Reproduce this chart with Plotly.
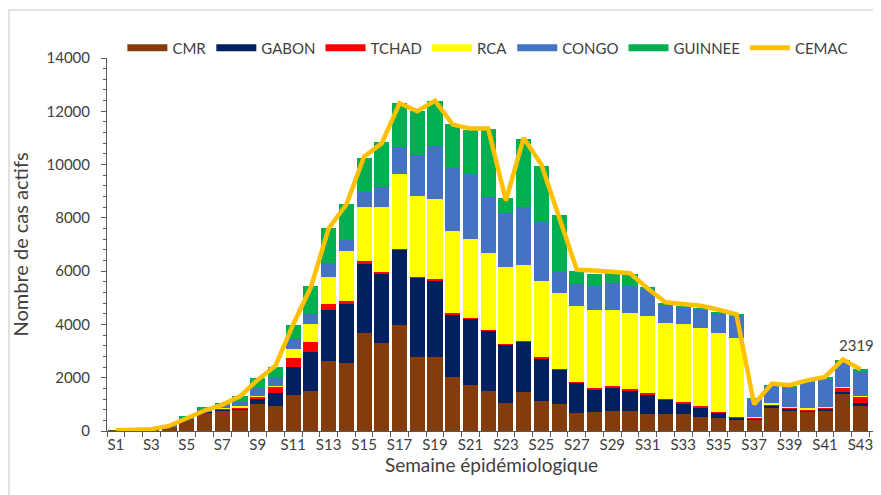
import plotly.graph_objects as go

weeks = ["S%d" % i for i in range(1, 44)]

cmr = [20, 20, 60, 150, 440, 680, 780, 780, 1010, 920,
       1340, 1510, 2640, 2540, 3665, 3300, 3990, 2765, 2765, 2015,
       1740, 1515, 1050, 1450, 1115, 1015, 665, 725, 765, 740,
       640, 625, 625, 540, 475, 415, 415, 850, 750, 725,
       750, 1415, 950]
gabon = [0, 0, 0, 10, 10, 40, 40, 80, 210, 500,
         1060, 1440, 1900, 2225, 2640, 2615, 2815, 3000, 2900, 2375,
         2465, 2250, 2190, 1915, 1615, 1275, 1160, 850, 875, 750,
         725, 540, 390, 310, 215, 100, 50, 100, 100, 60,
         100, 60, 100]
tchad = [0, 0, 0, 20, 10, 20, 25, 40, 80, 250,
         340, 380, 225, 100, 60, 40, 25, 25, 25, 40,
         25, 25, 25, 25, 35, 35, 25, 40, 60, 90,
         50, 25, 90, 100, 40, 25, 25, 40, 35, 40,
         40, 165, 240]
rca = [0, 0, 0, 0, 0, 10, 15, 20, 20, 20,
       350, 690, 1025, 1880, 2030, 2440, 2815, 3040, 3015, 3065,
       2980, 2890, 2880, 2850, 2850, 2840, 2850, 2940, 2855, 2850,
       2915, 2880, 2915, 2900, 2965, 2940, 40, 50, 25, 25,
       25, 25, 30]
congo = [0, 0, 0, 10, 30, 70, 100, 180, 290, 300,
         350, 375, 500, 440, 560, 750, 1000, 1540, 2000, 2380,
         2440, 2115, 2025, 2150, 2215, 790, 815, 900, 990, 1000,
         1000, 660, 625, 715, 725, 840, 650, 650, 740, 1000,
         1065, 940, 930]
guinnee = [0, 0, 0, 0, 70, 90, 100, 210, 370, 420,
           540, 1060, 1315, 1340, 1310, 1690, 1650, 1650, 1690, 1650,
           1630, 2540, 575, 2565, 2125, 2165, 475, 440, 375, 460,
           90, 65, 50, 40, 50, 60, 40, 35, 40, 40,
           35, 60, 69]
cemac = [30, 30, 70, 190, 480, 770, 980, 1300, 1920, 2450,
         4000, 5400, 7600, 8500, 10300, 10800, 12300, 12000, 12400, 11500,
         11350, 11350, 8650, 11000, 10000, 8050, 6050, 6020, 5980, 5920,
         5350, 4830, 4770, 4700, 4550, 4380, 1000, 1780, 1720, 1900,
         2030, 2680, 2319]

series = [
    ("CMR", cmr, "#843C0C"),
    ("GABON", gabon, "#002060"),
    ("TCHAD", tchad, "#FF0000"),
    ("RCA", rca, "#FFFF00"),
    ("CONGO", congo, "#4472C4"),
    ("GUINNEE", guinnee, "#00B050"),
]
line_color = "#FFC000"
font_family = "Lato, 'Open Sans', sans-serif"
text_color = "#404040"

# figure is offset by the page's default 8px body margin
W, H = 873, 487
ML, MR, MT, MB = 99, 5, 50, 64
PW, PH = W - ML - MR, H - MT - MB

fig = go.Figure()
for name, vals, col in series:
    fig.add_trace(go.Bar(x=weeks, y=vals, name=name, marker=dict(color=col, line=dict(width=0)),
                         showlegend=False))
fig.add_trace(go.Scatter(x=weeks, y=cemac, name="CEMAC", mode="lines",
                         line=dict(color=line_color, width=4.5), showlegend=False))

# legend entries (wide swatches)
for name, vals, col in series:
    fig.add_trace(go.Scatter(x=[None], y=[None], name=name, mode="lines",
                             line=dict(color=col, width=7)))
fig.add_trace(go.Scatter(x=[None], y=[None], name="CEMAC", mode="lines",
                         line=dict(color=line_color, width=5)))

fig.add_annotation(x=weeks[-1], y=cemac[-1], text=str(cemac[-1]), showarrow=False,
                   yshift=24, xshift=-4, font=dict(size=15, color=text_color, family=font_family))

ticktext = [w if i % 2 == 0 else "" for i, w in enumerate(weeks)]

fig.update_layout(
    width=W, height=H,
    margin=dict(l=ML, r=MR, t=MT, b=MB, autoexpand=False),
    paper_bgcolor="white", plot_bgcolor="white",
    barmode="stack", bargap=0.15,
    font=dict(family=font_family, size=14, color=text_color),
    legend=dict(orientation="h", x=0.02, y=1.027, xanchor="left", yanchor="middle",
                font=dict(size=15, color=text_color), bgcolor="rgba(0,0,0,0)",
                itemwidth=40, tracegroupgap=0, traceorder="normal"),
    xaxis=dict(type="category", tickmode="array", tickvals=weeks, ticktext=ticktext,
               tickson="boundaries", ticks="outside", ticklen=5, tickcolor="#595959",
               tickangle=0,
               showline=True, linecolor="#595959", linewidth=1, showgrid=False,
               tickfont=dict(size=15, color=text_color),
               title=dict(text="Semaine épidémiologique", font=dict(size=19, color=text_color), standoff=6)),
    yaxis=dict(range=[0, 14000], dtick=2000, tickformat="d", ticks="outside", ticklen=5, tickcolor="#595959",
               ticklabelstandoff=8,
               showline=True, linecolor="#595959", linewidth=1, showgrid=False, zeroline=False,
               minor=dict(dtick=400, ticks="outside", ticklen=3, tickcolor="#595959"),
               tickfont=dict(size=15, color=text_color),
               title=dict(text="Nombre de cas actifs", font=dict(size=20, color=text_color), standoff=16)),
    shapes=[dict(type="rect", xref="paper", yref="paper",
                 x0=(1 - ML) / PW, x1=(W + 10 - ML) / PW,
                 y0=(MT + PH - (H + 10)) / PH, y1=(MT + PH - 2) / PH,
                 line=dict(color="#D9D9D9", width=1.5), fillcolor="rgba(0,0,0,0)", layer="below")],
)

fig.write_html("out.html")
